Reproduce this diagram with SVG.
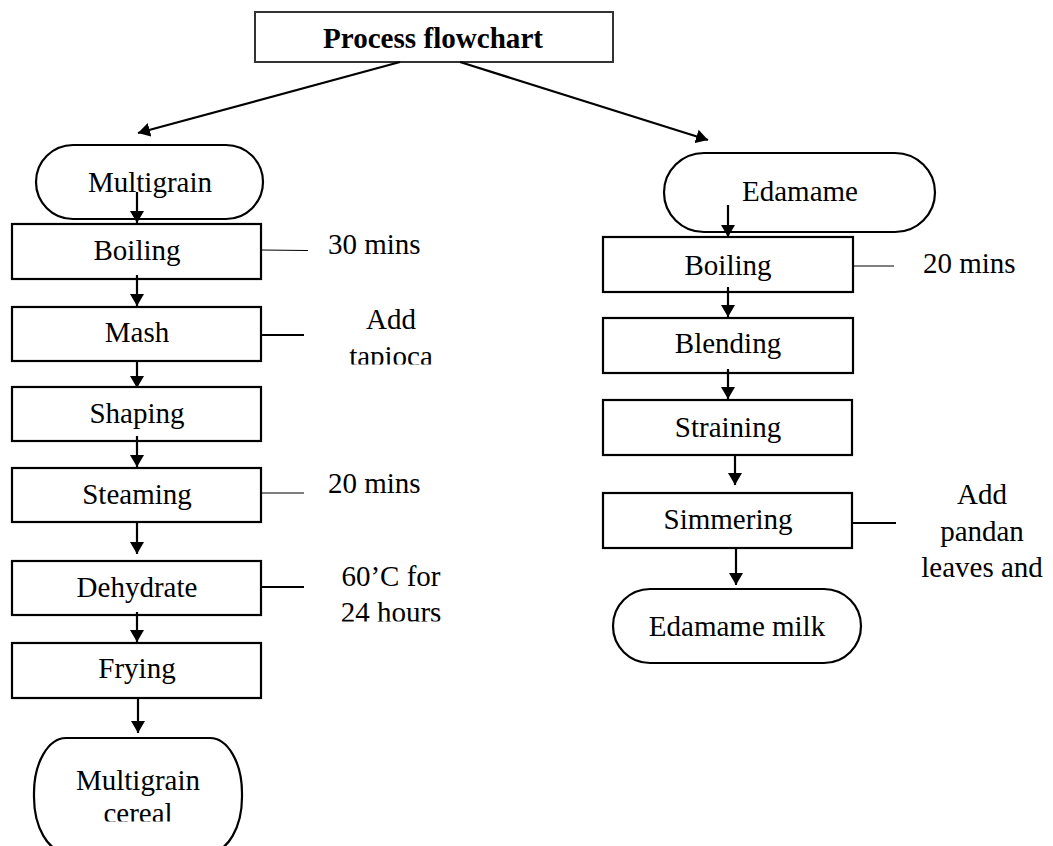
<svg xmlns="http://www.w3.org/2000/svg" width="1053" height="846" viewBox="0 0 1053 846">
<style>
.t{font-family:"Liberation Serif","Times New Roman",serif;font-size:29px;fill:#000;text-anchor:middle}
.ts{font-family:"Liberation Serif","Times New Roman",serif;font-size:29px;fill:#000}
.b{fill:#fff;stroke:#000;stroke-width:2.2}
.c{stroke:#000;stroke-width:2.2;fill:none}
.thin{stroke:#000;stroke-width:1.2;fill:none}
.side{stroke:#000;stroke-width:2.2;fill:none}
</style>
<defs>
<marker id="ah" viewBox="0 0 12 14" markerWidth="12" markerHeight="14" refX="12" refY="7" orient="auto" markerUnits="userSpaceOnUse">
<path d="M0,0 L12,7 L0,14 Z" fill="#000"/>
</marker>
<clipPath id="clipTap"><rect x="300" y="300" width="200" height="64.5"/></clipPath>
<clipPath id="clip24"><rect x="300" y="550" width="200" height="71.5"/></clipPath>
<clipPath id="clipCer"><rect x="34" y="738" width="210" height="83.5"/></clipPath>
</defs>

<g id="title">
<rect x="255" y="12" width="358" height="50" fill="#fff" stroke="#333" stroke-width="2"/>
<text x="433" y="48" class="t" style="font-weight:bold" textLength="220" lengthAdjust="spacingAndGlyphs">Process flowchart</text>
</g>

<g id="multigrain">
<rect x="36" y="145" width="227" height="74" rx="37" ry="37" class="b"/>
<text x="150" y="192" class="t">Multigrain</text>
</g>
<g id="boiling-l">
<rect x="12" y="224" width="249" height="55" class="b"/>
<text x="137" y="260" class="t">Boiling</text>
</g>
<g id="mash">
<rect x="12" y="307" width="249" height="54" class="b"/>
<text x="137" y="342" class="t">Mash</text>
</g>
<g id="shaping">
<rect x="12" y="387" width="249" height="54" class="b"/>
<text x="137" y="423" class="t">Shaping</text>
</g>
<g id="steaming">
<rect x="12" y="468" width="249" height="54" class="b"/>
<text x="137" y="504" class="t">Steaming</text>
</g>
<g id="dehydrate">
<rect x="12" y="561" width="249" height="54" class="b"/>
<text x="137" y="597" class="t">Dehydrate</text>
</g>
<g id="frying">
<rect x="12" y="643" width="249" height="55" class="b"/>
<text x="137" y="678" class="t">Frying</text>
</g>
<g id="multigrain-cereal">
<rect x="34" y="738" width="208" height="114" rx="32" ry="55" class="b"/>
<g clip-path="url(#clipCer)">
<text x="138" y="790" class="t">Multigrain</text>
<text x="138" y="823" class="t">cereal</text>
</g>
</g>

<g id="note-30mins"><text x="328" y="254" class="ts">30 mins</text></g>
<g id="note-tapioca" clip-path="url(#clipTap)">
<text x="391" y="329" class="t">Add</text>
<text x="391" y="366" class="t">tapioca</text>
</g>
<g id="note-20mins-l"><text x="328" y="493" class="ts">20 mins</text></g>
<g id="note-60c" clip-path="url(#clip24)">
<text x="391" y="586" class="t">60’C for</text>
<text x="391" y="622" class="t">24 hours</text>
</g>

<g id="edamame">
<rect x="664" y="153" width="271" height="79" rx="40" ry="39.5" class="b"/>
<text x="800" y="201" class="t">Edamame</text>
</g>
<g id="boiling-r">
<rect x="603" y="237" width="250" height="55" class="b"/>
<text x="728" y="275" class="t">Boiling</text>
</g>
<g id="blending">
<rect x="603" y="318" width="250" height="55" class="b"/>
<text x="728" y="353" class="t">Blending</text>
</g>
<g id="straining">
<rect x="603" y="400" width="249" height="55" class="b"/>
<text x="728" y="437" class="t">Straining</text>
</g>
<g id="simmering">
<rect x="603" y="493" width="249" height="55" class="b"/>
<text x="728" y="529" class="t">Simmering</text>
</g>
<g id="edamame-milk">
<rect x="613" y="589" width="248" height="74" rx="37" ry="37" class="b"/>
<text x="737" y="636" class="t">Edamame milk</text>
</g>
<g id="note-20mins-r"><text x="923" y="273" class="ts">20 mins</text></g>
<g id="note-pandan">
<text x="982" y="504" class="t">Add</text>
<text x="982" y="541" class="t">pandan</text>
<text x="982" y="577" class="t">leaves and</text>
</g>

<g id="connectors">
<line x1="400" y1="62" x2="138" y2="133" class="c" marker-end="url(#ah)"/>
<line x1="460" y1="62" x2="708" y2="140" class="c" marker-end="url(#ah)"/>

<line x1="137" y1="192" x2="137" y2="223" class="c" marker-end="url(#ah)"/>
<line x1="137" y1="275" x2="137" y2="306" class="c" marker-end="url(#ah)"/>
<line x1="137" y1="361" x2="137" y2="388" class="c" marker-end="url(#ah)"/>
<line x1="137" y1="436" x2="137" y2="467" class="c" marker-end="url(#ah)"/>
<line x1="137" y1="522" x2="137" y2="554" class="c" marker-end="url(#ah)"/>
<line x1="137" y1="612" x2="137" y2="642" class="c" marker-end="url(#ah)"/>
<line x1="138" y1="698" x2="138" y2="733" class="c" marker-end="url(#ah)"/>

<line x1="261" y1="250" x2="308" y2="250.5" class="thin"/>
<line x1="261" y1="335" x2="304" y2="335" class="side"/>
<line x1="261" y1="493" x2="304" y2="493" class="thin"/>
<line x1="261" y1="587" x2="304" y2="587" class="side"/>

<line x1="728" y1="205" x2="728" y2="237" class="c" marker-end="url(#ah)"/>
<line x1="728" y1="287" x2="728" y2="317" class="c" marker-end="url(#ah)"/>
<line x1="728" y1="369" x2="728" y2="399" class="c" marker-end="url(#ah)"/>
<line x1="735" y1="455" x2="735" y2="485" class="c" marker-end="url(#ah)"/>
<line x1="736" y1="548" x2="736" y2="585" class="c" marker-end="url(#ah)"/>

<line x1="853" y1="266" x2="894" y2="266" class="thin"/>
<line x1="852" y1="523" x2="896" y2="523" class="side"/>
</g>
</svg>
